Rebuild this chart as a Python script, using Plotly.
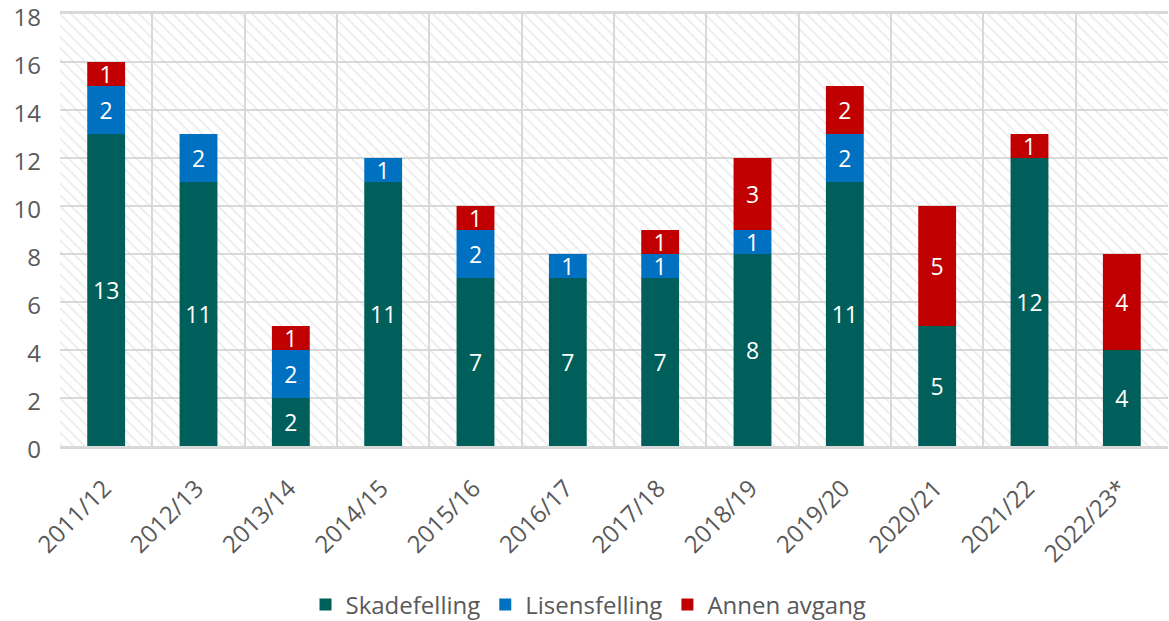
import plotly.graph_objects as go

seasons = ["2011/12", "2012/13", "2013/14", "2014/15", "2015/16", "2016/17",
           "2017/18", "2018/19", "2019/20", "2020/21", "2021/22", "2022/23*"]
skadefelling = [13, 11, 2, 11, 7, 7, 7, 8, 11, 5, 12, 4]
lisensfelling = [2, 2, 2, 1, 2, 1, 1, 1, 2, 0, 0, 0]
annen_avgang = [1, 0, 1, 0, 1, 0, 1, 3, 2, 5, 1, 4]
y_ticks = [0, 2, 4, 6, 8, 10, 12, 14, 16, 18]
y_max = 18

colors = {"Skadefelling": "#005F5A", "Lisensfelling": "#0070C0", "Annen avgang": "#C00000"}
FONT = "Open Sans"
GRAY = "#595959"
GRID = "#d9d9d9"

fig = go.Figure()

# hatched plot background
fig.add_trace(go.Bar(
    x=seasons, y=[y_max] * len(seasons), width=1, showlegend=False, hoverinfo="skip",
    marker=dict(color="rgba(0,0,0,0)", line=dict(width=0),
                pattern=dict(shape="\\", fgcolor="#d6d6d6", bgcolor="rgba(0,0,0,0)",
                             size=8, solidity=0.2)),
))

series = [("Skadefelling", skadefelling), ("Lisensfelling", lisensfelling), ("Annen avgang", annen_avgang)]
base = [0] * len(seasons)
for name, vals in series:
    fig.add_trace(go.Bar(
        x=seasons, y=vals, base=list(base), name=name, width=0.41,
        marker=dict(color=colors[name], line=dict(width=0)),
        text=[str(v) if v else "" for v in vals], textposition="inside",
        insidetextanchor="middle", textangle=0,
        textfont=dict(family=FONT, size=23, color="white"),
        hoverinfo="skip",
    ))
    base = [b + v for b, v in zip(base, vals)]

fig.update_layout(
    width=1169, height=621,
    margin=dict(l=60, r=1, t=14, b=175, autoexpand=False),
    barmode="overlay",
    plot_bgcolor="white", paper_bgcolor="white",
    font=dict(family=FONT, size=24, color=GRAY),
    uniformtext=dict(minsize=23, mode="show"),
    showlegend=True,
    legend=dict(orientation="h", x=0.477, xanchor="center", y=-0.368, yanchor="middle",
                font=dict(family=FONT, size=24, color=GRAY), traceorder="normal",
                itemwidth=30),
    xaxis=dict(type="category", tickson="boundaries", showgrid=True, gridcolor=GRID,
               gridwidth=2, showline=True, linecolor=GRID, linewidth=2.5, mirror=True,
               ticks="", tickangle=-45, tickfont=dict(family=FONT, size=24, color=GRAY),
               ticklabelstandoff=16, ticklabelshift=-2, automargin=False,
               range=[-0.5, len(seasons) - 0.5]),
    yaxis=dict(range=[0, y_max], tickmode="array", tickvals=y_ticks,
               ticktext=[str(t) for t in y_ticks], showgrid=True, gridcolor=GRID, gridwidth=2,
               zeroline=False, showline=False, ticks="", ticklabelstandoff=18,
               ticklabelshift=4, ticklabeloverflow="allow", automargin=False,
               tickfont=dict(family=FONT, size=24, color=GRAY)),
)

fig.write_html("out.html", post_script="document.body.style.margin='0';",
               config={"displayModeBar": False})
